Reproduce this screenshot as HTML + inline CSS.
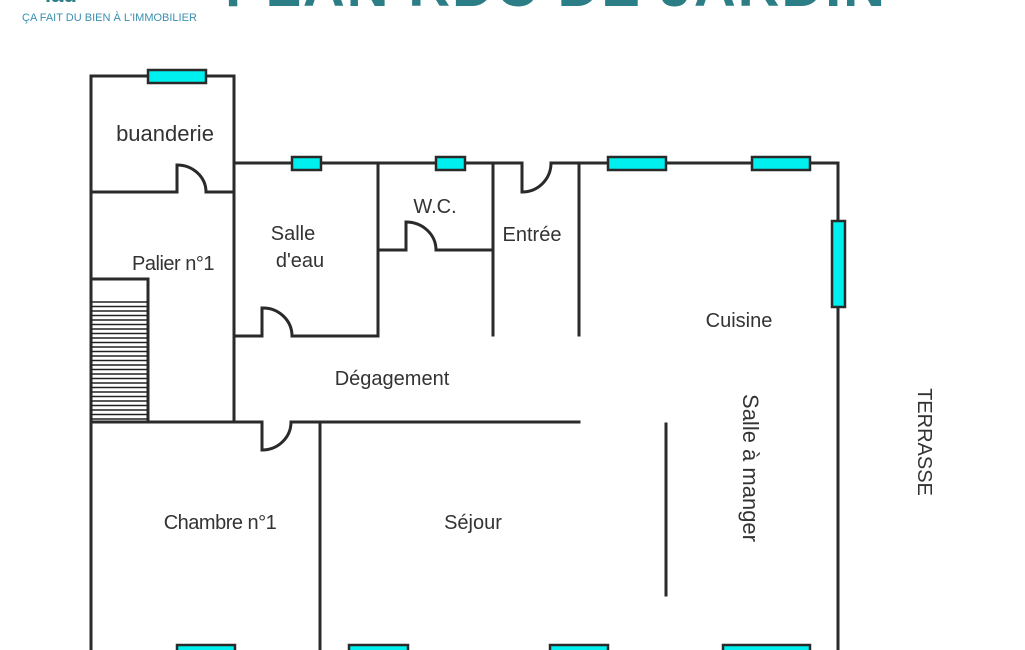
<!DOCTYPE html>
<html><head><meta charset="utf-8"><style>
html,body{margin:0;padding:0;background:#fff;width:1025px;height:650px;overflow:hidden}
svg{display:block}
text{font-family:"Liberation Sans",sans-serif;fill:#333;font-size:20px}
</style></head><body>
<svg width="1025" height="650" viewBox="0 0 1025 650" xmlns="http://www.w3.org/2000/svg">
<text x="45" y="2" style="font-size:22px;font-weight:bold;fill:#2b7d86">iad</text>
<text x="22" y="21" style="font-size:11px;fill:#3a8fb0">ÇA FAIT DU BIEN À L'IMMOBILIER</text>
<text x="555" y="6" text-anchor="middle" textLength="660" style="font-size:58px;font-weight:bold;fill:#2b7d86">PLAN RDC DE JARDIN</text>
<g stroke="#2a2a2a" stroke-width="3" fill="none" stroke-linecap="square">
<path d="M91 650 V76 H234 V422"/>
<path d="M91 192 H177 V165 A29 27 0 0 1 206 192 H234"/>
<path d="M234 163 H522 V192 A29 29 0 0 0 551 163 H838 V650"/>
<path d="M378 163 V336 H292 A29 28 0 0 0 262 308 V336 H234"/>
<path d="M378 250 H406 V222 A30 28 0 0 1 436 250 H493"/>
<path d="M493 163 V335"/>
<path d="M579 163 V335"/>
<path d="M91 422 H262 V450 A29 28 0 0 0 291 422 H579"/>
<path d="M320 422 V650"/>
<path d="M666 424 V595"/>
<path d="M91 279 H148 V422"/>
</g>
<g stroke="#222" stroke-width="1.6">
<path d="M91 302 H148 M91 306.5 H148 M91 311 H148 M91 315.5 H148 M91 320 H148 M91 324.5 H148 M91 329 H148 M91 333.5 H148 M91 338 H148 M91 342.5 H148 M91 347 H148 M91 351.5 H148 M91 356 H148 M91 360.5 H148 M91 365 H148 M91 369.5 H148 M91 374 H148 M91 378.5 H148 M91 383 H148 M91 387.5 H148 M91 392 H148 M91 396.5 H148 M91 401 H148 M91 405.5 H148 M91 410 H148 M91 414.5 H148 M91 419 H148"/>
</g>
<g fill="#00f0f0" stroke="#2a2a2a" stroke-width="2.5">
<rect x="148" y="70" width="58" height="13"/>
<rect x="292" y="157" width="29" height="13"/>
<rect x="436" y="157" width="29" height="13"/>
<rect x="608" y="157" width="58" height="13"/>
<rect x="752" y="157" width="58" height="13"/>
<rect x="832" y="221" width="13" height="86"/>
<rect x="177" y="645" width="58" height="13"/>
<rect x="349" y="645" width="59" height="13"/>
<rect x="550" y="645" width="58" height="13"/>
<rect x="723" y="645" width="87" height="13"/>
</g>
<text x="165" y="141" text-anchor="middle" style="font-size:22px">buanderie</text>
<text x="173" y="270" text-anchor="middle" style="letter-spacing:-0.5px">Palier n°1</text>
<text x="293" y="240" text-anchor="middle">Salle</text>
<text x="300" y="267" text-anchor="middle">d'eau</text>
<text x="435" y="213" text-anchor="middle">W.C.</text>
<text x="532" y="241" text-anchor="middle">Entrée</text>
<text x="739" y="327" text-anchor="middle">Cuisine</text>
<text x="392" y="385" text-anchor="middle">Dégagement</text>
<text x="220" y="529" text-anchor="middle" style="letter-spacing:-0.5px">Chambre n°1</text>
<text x="473" y="529" text-anchor="middle">Séjour</text>
<text transform="translate(743,468) rotate(90)" text-anchor="middle" style="font-size:22px">Salle à manger</text>
<text transform="translate(918,442) rotate(90)" text-anchor="middle">TERRASSE</text>
</svg>
</body></html>
